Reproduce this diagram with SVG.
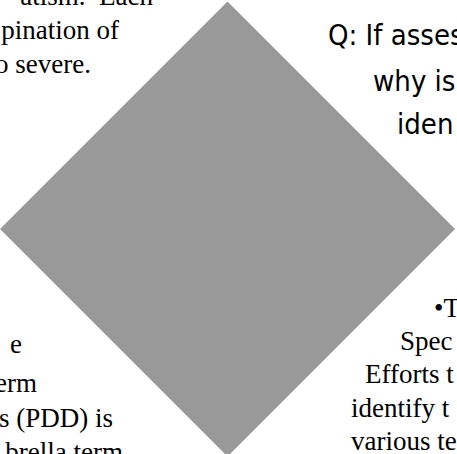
<svg xmlns="http://www.w3.org/2000/svg" width="457" height="454" viewBox="0 0 457 454">
<style>
.serif{font-family:"Liberation Serif","Times New Roman",serif;font-size:27px;fill:#000;white-space:pre}
.narrow{font-family:"DejaVu Sans Condensed","Liberation Sans Narrow",sans-serif;font-size:29px;fill:#000;white-space:pre}
</style>
<rect width="457" height="454" fill="#fff"/>
<g id="diamond">
<polygon points="227.5,1.5 455,229 227.5,456.5 0,229" fill="#999999"/>
</g>
<g id="text-top-left" class="serif" text-anchor="end">
<text x="153" y="5" xml:space="preserve">atism.  Each</text>
<text x="119" y="39">pination of</text>
<text x="91" y="73">o severe.</text>
</g>
<g id="text-top-right" class="narrow">
<text x="328" y="45">Q: If asses</text>
<text x="373" y="91">why is</text>
<text x="397" y="134">iden</text>
</g>
<g id="text-bottom-left" class="serif" text-anchor="end">
<text x="22" y="353">e</text>
<text x="37" y="392">erm</text>
<text x="113" y="427">s (PDD) is</text>
<text x="123" y="461">brella term</text>
</g>
<g id="text-bottom-right" class="serif">
<text x="434" y="317">•T</text>
<text x="400" y="350">Spec</text>
<text x="365" y="383">Efforts t</text>
<text x="351" y="417">identify t</text>
<text x="351" y="450">various te</text>
</g>
</svg>
